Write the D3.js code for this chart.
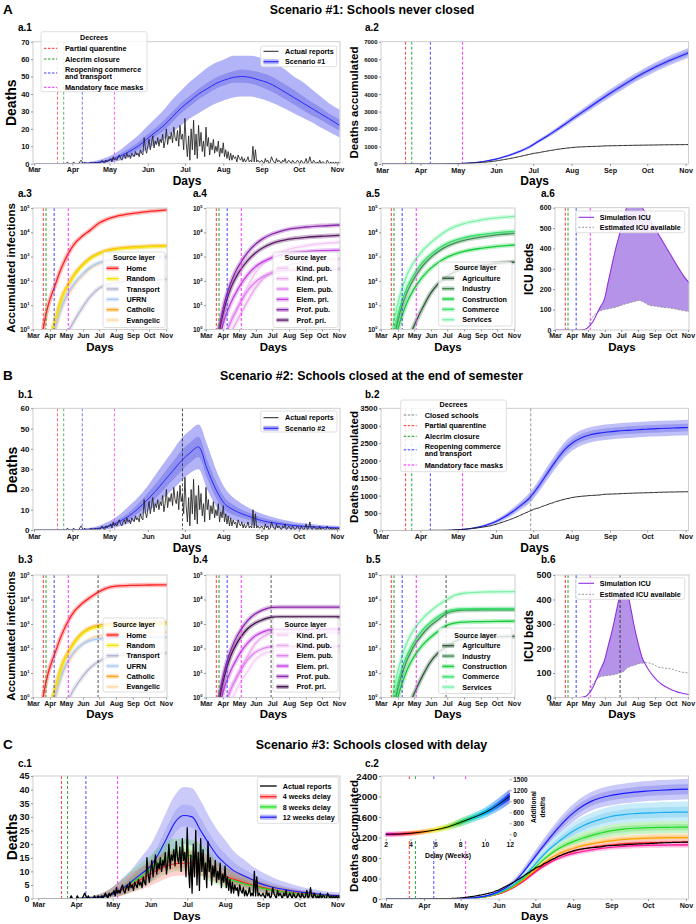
<!DOCTYPE html>
<html><head><meta charset="utf-8">
<script src="https://cdn.jsdelivr.net/npm/d3@7"></script>
<style>body{margin:0;background:#fff}</style>
</head><body>
<script>
// ======================= DATA =======================
const monthLabels = ['Mar','Apr','May','Jun','Jul','Aug','Sep','Oct','Nov'];
// day index 0 = Mar 1 2020
const decreeDays = [19, 24, 39, 65];
const decreeNames = ['Partial quarentine','Alecrim closure','Reopening commerce|and transport','Mandatory face masks'];
const closeSchoolDay = 120;

// weekly grid (days since Mar 1)
const wk = [0,7,14,21,28,35,42,49,56,63,70,77,84,91,98,105,112,119,126,133,140,147,154,161,168,175,182,189,196,203,210,217,224,231,238,247];
// grid for log panels
const lg = [14,21,28,35,42,49,56,63,77,91,105,122,137,153,184,214,247];

// Actual daily death reports
const actMar = [0,0,0,0,0,0,0,0,0,0,0,0,0,0,0,0,0,0,0,0,0,0,0,0,0,0,0,1,0,0,0];
const actApr = [0,1,0,0,0,0,1,2,1,0,1,0,0,0,0,1,0,0,1,0,0,1,0,1,2,1,0,2,1,2];
const actMay = [2,3,1,4,2,3,2,4,5,3,2,4,5,3,6,4,5,3,6,5,4,7,5,6,4,8,6,5,15,9,6];
const actJun = [10,14,8,12,16,9,13,11,15,10,14,12,17,9,13,20,11,16,14,18,12,21,15,13,19,10,22,14,17,8];
const actJul = [26,12,4,16,2,20,8,25,5,17,3,22,10,18,7,13,4,21,10,15,5,12,8,14,6,10,7,13,4,9,6];
const actAug = [12,4,8,3,7,2,6,2,5,3,4,1,5,3,2,4,1,3,1,2,4,1,2,1,10,1,8,1,2,1,1];
const actSep = [2,1,0,3,1,2,0,1,4,2,1,0,3,1,2,1,0,2,1,3,0,1,2,1,0,2,1,0,1,2];
const actOct = [1,0,2,1,0,1,3,0,1,4,1,0,2,1,0,1,0,2,0,1,1,0,0,2,1,0,1,0,1,0,1];
const actNov = [0,1,0];
const actualReports = [].concat(actMar,actApr,actMay,actJun,actJul,actAug,actSep,actOct,actNov);

// a.1 Scenario #1 daily deaths
const s1Mean = [0,0,0,0,0,0.1,0.3,0.6,1.2,2.5,4.5,7,10,14,18,22,27,32,36,40,43,46,48,49.5,50,49.5,48,46.5,44,41,38,35,32,29,26,22];
const s1Hi95 = [0,0,0,0,0,0.3,0.8,1.5,3,5,8,12,16,21,26,31,37,42,47,51,55,58,60,62,62,62,61,60,57,54,50,47,43,39,35,31];
const s1Lo95 = [0,0,0,0,0,0,0,0.1,0.3,0.8,2,3.5,5,8,11,14,18,22,26,29,32,34.5,36.5,38,38.5,38.5,37.5,36,34,31.5,29,26.5,24,21,18.5,15];
const s1Hi50 = [0,0,0,0,0,0.15,0.5,0.9,1.8,3.4,5.8,8.8,12.2,16.5,20.5,25,30,35,39,43,46.5,49.5,51.5,53,54,53.5,52.5,51,48.5,45.5,42.5,39,35.5,32.5,29,25.5];
const s1Lo50 = [0,0,0,0,0,0.05,0.15,0.35,0.7,1.7,3.3,5.3,8,11.5,15.5,19,24,29,33,37,40,43,45,46.5,46.5,46,44.5,42.5,40,37,34,31,28,25.5,22.5,19];
// a.2 Scenario #1 accumulated
const s1Cum = [0,0,0,0,0,0,0,0,8,25,55,100,170,265,400,560,750,980,1290,1590,1910,2250,2600,2940,3280,3620,3950,4270,4580,4880,5160,5420,5660,5890,6100,6360];
const s1CumSpread95 = [0,0,0,0,0,0,0,0,3,8,14,22,32,45,58,70,80,90,100,115,130,150,170,185,200,212,225,235,242,250,256,262,268,272,276,280];
const s1CumSpread50 = [0,0,0,0,0,0,0,0,1.5,4,7,11,16,22,29,35,40,45,50,57,65,75,85,92,100,106,112,117,121,125,128,131,134,136,138,140];

// b.1 Scenario #2 daily deaths
const s2Mean = [0,0,0,0,0,0.1,0.3,0.6,1.2,2.5,4.5,7,10.5,14.5,19,24,29,34,38,41,30,20,13,10,8,6.5,5,4,3.3,2.7,2.2,1.9,1.6,1.4,1.2,1];
const s2Hi95 = [0,0,0,0,0,0.3,0.8,1.5,3,5,8,12,16,21,27,33,39,45,49,52,42,30,21,16,13,10.5,8.5,7,5.8,4.8,4,3.4,2.9,2.5,2.2,2];
const s2Lo95 = [0,0,0,0,0,0,0,0.1,0.3,0.8,2,3.5,6,9,12,16,20,24,28,30,20,12,7,5,3.5,2.6,1.8,1.3,0.9,0.6,0.4,0.3,0.2,0.2,0.1,0.1];
const s2Hi50 = [0,0,0,0,0,0.15,0.5,0.9,1.8,3.4,5.8,8.8,12.8,17.5,22.5,28,33.5,39,43,46,34.5,24,16,12.5,10,8.2,6.5,5.3,4.4,3.6,3,2.5,2.1,1.8,1.6,1.4];
const s2Lo50 = [0,0,0,0,0,0.05,0.15,0.35,0.7,1.7,3.3,5.3,8.2,11.5,15.5,20,24.5,29,33,36,25.5,16,10,7.5,6,4.8,3.6,2.8,2.2,1.8,1.4,1.2,1,0.9,0.8,0.6];
// b.2 Scenario #2 accumulated
const s2Cum = [0,0,0,0,0,0,0,0,8,25,50,90,150,240,370,530,720,930,1250,1620,1980,2300,2520,2660,2740,2790,2820,2845,2865,2880,2895,2910,2920,2930,2940,2950];
const s2CumSpread95 = [0,0,0,0,0,0,0,0,3,8,15,25,40,55,75,100,120,150,170,190,205,215,220,220,220,220,220,220,220,220,220,220,220,220,220,220];
const s2CumSpread50 = [0,0,0,0,0,0,0,0,1.5,4,7.5,12,20,27,37,50,60,75,85,95,102,107,110,110,110,110,110,110,110,110,110,110,110,110,110,110];

// c.1 Scenario #3 daily deaths (4, 8, 12 weeks delay)
const d4Mean = [0,0,0,0,0,0.1,0.3,0.6,1.1,2,3.5,5.2,7,8.8,10.5,12,12.8,13,13,12.7,11.5,9.3,8,7,6,5,4.2,3.5,2.9,2.4,2,1.7,1.4,1.2,1,0.9];
const d4Hi95 = [0,0,0,0,0,0.3,0.8,1.5,2.8,4.8,7,9.5,11.5,13.5,15.5,17,17.5,17.5,17.5,17,15.5,13,11.3,10,8.8,7.5,6.4,5.4,4.6,3.9,3.3,2.8,2.4,2,1.7,1.5];
const d4Lo95 = [0,0,0,0,0,0,0,0.1,0.3,0.6,1.2,2.3,3.3,4.5,6,7.5,8.3,8.5,8.5,8.3,7.5,5.8,4.8,4.1,3.4,2.7,2.1,1.6,1.3,1,0.8,0.6,0.5,0.4,0.3,0.3];
const d4Hi50 = [0,0,0,0,0,0.2,0.5,0.9,1.7,2.9,4.7,6.6,8.5,10.4,12.2,13.7,14.5,14.7,14.7,14.4,13,10.6,9.2,8.1,7,5.9,5,4.2,3.5,2.9,2.5,2.1,1.8,1.5,1.3,1.1];
const d4Lo50 = [0,0,0,0,0,0,0.1,0.3,0.6,1.2,2.4,3.8,5.4,7.1,8.7,10.2,11,11.2,11.2,10.9,9.9,8,6.8,5.9,5,4.1,3.4,2.8,2.3,1.9,1.6,1.3,1.1,0.9,0.8,0.7];
const d8Mean = [0,0,0,0,0,0.1,0.3,0.6,1.1,2,3.8,6,8,10.5,13,15,16,16,15.5,14,11.5,9,7.5,6.5,5.5,4.7,4,3.3,2.8,2.3,1.9,1.6,1.3,1.1,0.9,0.8];
const d8Hi95 = [0,0,0,0,0,0.3,0.8,1.5,2.8,5,7.5,10.5,13,15.5,18.5,21,22,22,21.5,20,17,13.5,11.5,10,8.5,7.3,6.3,5.3,4.5,3.8,3.2,2.7,2.3,2,1.7,1.5];
const d8Lo95 = [0,0,0,0,0,0,0,0.1,0.3,0.6,1.3,2.5,3.8,5.5,7.5,9,10,10,9.8,8.5,6.5,5,4,3.3,2.7,2.2,1.8,1.4,1.1,0.9,0.7,0.5,0.4,0.3,0.25,0.2];
const d8Hi50 = [0,0,0,0,0,0.2,0.5,0.9,1.7,3,5.2,7.8,10,12.5,15.2,17.3,18.3,18.3,17.8,16.2,13.4,10.6,8.9,7.7,6.6,5.7,4.9,4.1,3.5,2.9,2.4,2,1.7,1.4,1.2,1];
const d8Lo50 = [0,0,0,0,0,0,0.1,0.3,0.6,1.2,2.6,4.3,6,8.3,10.6,12.6,13.6,13.6,13.2,11.7,9.4,7.3,6,5.2,4.4,3.7,3.1,2.5,2.1,1.7,1.4,1.2,1,0.8,0.7,0.6];
const d12Mean = [0,0,0,0,0,0.1,0.3,0.6,1.1,2,4,6.5,9,11.5,16,22,28,30.5,30,25,20,15.5,12.5,10,8.5,7,5.5,4.5,3.8,3.2,2.7,2.3,2,1.6,1.3,1];
const d12Hi95 = [0,0,0,0,0,0.3,0.8,1.5,2.8,5,8,11,15,19,25,32,38,41,40.5,36,30,25,21,17,14.5,12,10,8.5,7,6,5,4.2,3.5,3,2.5,2.2];
const d12Lo95 = [0,0,0,0,0,0,0,0.1,0.3,0.6,1.5,3,4.5,6,8.5,12,17,20,19.5,15,11,8,6,4.8,4,3.2,2.5,2,1.5,1.1,0.8,0.6,0.4,0.3,0.2,0.1];
const d12Hi50 = [0,0,0,0,0,0.2,0.5,0.9,1.7,3,5.5,8.3,11.2,14.3,19.5,26,32,34.5,34,29.5,24,19.5,16,13,11,9.2,7.5,6.3,5.3,4.4,3.7,3.1,2.6,2.1,1.7,1.4];
const d12Lo50 = [0,0,0,0,0,0,0.1,0.3,0.6,1.2,2.8,4.8,6.9,9,12.5,18,24,26.5,26,21,16,12,9.5,7.5,6.3,5.2,4,3.2,2.6,2.2,1.8,1.5,1.3,1.1,0.9,0.7];

// c.2 accumulated deaths by delay (2,4,6,8,10,12 weeks)
const c2w2  = [0,0,0,0,0,0,0,0,2,6,14,29,53,92,152,235,340,470,595,700,785,848,895,932,960,985,1005,1020,1032,1040,1046,1050,1052,1054,1055,1056];
const c2w4  = [0,0,0,0,0,0,0,0,2,6,14,30,55,95,158,245,355,490,620,730,820,885,935,975,1005,1030,1050,1067,1080,1089,1095,1100,1103,1105,1107,1108];
const c2w6  = [0,0,0,0,0,0,0,0,2,6,15,31,57,100,165,255,370,510,650,770,870,940,995,1040,1075,1105,1130,1150,1165,1175,1183,1189,1193,1196,1198,1199];
const c2w8  = [0,0,0,0,0,0,0,0,2,7,16,33,60,105,175,270,395,550,710,850,970,1060,1130,1190,1240,1285,1325,1350,1368,1380,1388,1393,1397,1399,1401,1402];
const c2w10 = [0,0,0,0,0,0,0,0,2,7,17,35,65,115,190,295,430,600,790,960,1100,1230,1340,1430,1500,1555,1600,1630,1652,1665,1675,1682,1688,1692,1694,1696];
const c2w12 = [0,0,0,0,0,0,0,0,3,8,20,40,75,135,220,340,520,740,960,1170,1370,1550,1700,1820,1910,1970,2010,2040,2065,2085,2100,2112,2122,2130,2138,2145];
const c2sp2  = [0,0,0,0,0,0,0,0,1,1,2,4,7,10,14,19,24,29,33,37,40,43,45,46,47,48,49,49,50,50,50,50,50,50,50,50];
const c2sp4  = [0,0,0,0,0,0,0,0,1,2,3,5,8,12,17,23,29,35,40,45,49,52,54,56,57,58,59,59,60,60,60,60,60,60,60,60];
const c2sp6  = [0,0,0,0,0,0,0,0,1,2,3,6,10,15,22,30,38,46,54,60,65,69,72,74,76,77,78,79,79,80,80,80,80,80,80,80];
const c2sp8  = [0,0,0,0,0,0,0,0,1,2,4,8,13,20,30,42,55,68,80,90,98,104,108,111,113,115,116,117,118,118,119,119,120,120,120,120];
const c2sp10 = [0,0,0,0,0,0,0,0,1,3,6,11,18,28,42,58,76,95,115,132,148,160,170,178,185,190,194,197,199,201,202,203,204,205,205,205];
const c2sp12 = [0,0,0,0,0,0,0,0,1,3,6,12,20,32,48,65,85,105,125,140,155,165,172,178,183,187,190,192,194,195,196,197,198,199,199,200];
// inset: additional deaths vs delay
const delayWeeks = [2,3,4,5,6,7,8,9,10,11,12];
const addMean = [0,5,25,65,120,200,320,450,590,790,1040];
const addLo95 = [-70,-60,-40,-5,45,115,215,330,450,620,850];
const addHi95 = [70,75,95,140,200,290,430,570,730,960,1230];
const addLo50 = [-35,-28,-8,30,82,158,268,390,520,705,945];
const addHi50 = [35,38,60,102,160,245,375,510,660,875,1135];

// ICU
const icuSimA = [0,0,0,0,0,0,0,1,4,18,42,78,115,150,235,320,400,470,540,610,650,665,640,600,570,540,508,477,446,415,383,352,320,290,262,232];
const icuAvailA = [null,null,null,null,null,null,null,null,null,30,65,85,95,100,103,108,112,118,125,130,135,140,145,140,130,120,118,115,112,110,108,105,102,98,95,90];
const icuSimB = [0,0,0,0,0,0,0,1,4,18,42,78,115,150,210,270,340,410,450,430,360,280,215,160,130,105,85,68,55,45,37,30,24,19,15,12];
const icuAvailB = [null,null,null,null,null,null,null,null,null,25,55,75,85,88,90,92,95,100,105,120,128,132,138,140,142,140,135,125,122,120,118,115,110,105,102,100];

// Accumulated infections by source layer (log panels), on grid lg
const socNames = ['Home','Random','Transport','UFRN','Catholic','Evangelic'];
const aHome = [0.2,2,10,30,80,220,520,1100,3500,7000,12000,24000,35000,45000,60000,72000,84000];
const aRandom = [0.01,0.05,0.2,0.8,3,10,28,55,180,420,800,1300,1700,2000,2300,2550,2700];
const aTransport = [0.001,0.003,0.01,0.03,0.08,0.2,0.4,0.7,2.5,8,22,50,70,85,100,108,115];
const aUFRN = [0.01,0.02,0.1,0.4,1.5,5,13,28,85,190,360,560,700,790,870,920,950];
const aCatholic = [0.01,0.05,0.2,0.8,3,11,30,60,200,460,870,1400,1850,2150,2500,2700,2850];
const aEvangelic = [0.01,0.02,0.08,0.3,1,4,11,22,70,160,320,520,680,800,930,1020,1080];
const bHome = [0.2,2,10,30,80,220,520,1100,3500,7000,12000,21000,30000,35000,38000,39000,39500];
const bRandom = [0.01,0.05,0.2,0.8,3,10,28,55,180,400,620,750,850,900,950,970,980];
const bTransport = [0.001,0.003,0.01,0.03,0.08,0.2,0.4,0.7,2.5,7,16,30,42,50,58,62,65];
const bUFRN = [0.01,0.02,0.1,0.4,1.5,5,13,28,80,150,210,250,265,275,280,285,290];
const bCatholic = [0.01,0.05,0.2,0.8,3,11,30,60,200,440,700,900,1000,1080,1120,1140,1150];
const bEvangelic = [0.01,0.02,0.08,0.3,1,4,11,22,70,150,250,330,380,410,440,450,460];

const schoolNamesA = ['Kind. pub.','Kind. pri.','Elem. pub.','Elem. pri.','Prof. pub.','Prof. pri.'];
const aKindPub = [0.01,0.05,0.2,0.6,1.5,3.5,7,14,60,220,500,1000,1500,2000,2800,3400,3900];
const aKindPri = [0.001,0.01,0.05,0.15,0.4,1,2,4,15,50,120,230,340,450,600,720,800];
const aElemPub = [0.005,0.03,0.15,0.5,1.3,3,6,12,40,90,150,210,250,270,290,300,310];
const aElemPri = [0.02,0.15,0.8,3,8,18,35,66,180,380,620,900,1150,1350,1600,1750,1850];
const aProfPub = [0.05,0.5,3,15,50,130,280,520,1500,3200,5500,8500,11000,13500,16500,18500,20000];
const aProfPri = [0.03,0.3,2,9,30,75,150,270,700,1400,2300,3500,4400,5200,6200,6900,7500];
const schoolNamesB = ['Kind. pri.','Kind. pub.','Elem. pub.','Elem. pri.','Prof. pub.','Prof. pri.'];
const bKindPri = [0.001,0.01,0.05,0.15,0.4,1,2,4,12,35,60,76,78,78,78,78,78];
const bKindPub = [0.01,0.05,0.2,0.6,1.5,3.5,7,14,50,160,300,430,440,440,440,440,440];
const bElemPub = [0.005,0.03,0.15,0.5,1.3,3,6,12,35,70,100,120,122,122,122,122,122];
const bElemPri = [0.02,0.15,0.8,3,8,18,35,66,170,330,480,600,610,610,610,610,610];
const bProfPub = [0.05,0.5,3,15,50,130,280,520,1400,2600,3800,4800,4900,4900,4900,4900,4900];
const bProfPri = [0.03,0.3,2,9,30,75,150,270,650,1100,1500,1900,1950,1950,1950,1950,1950];

const workNames = ['Agriculture','Industry','Construction','Commerce','Services'];
const aAgri = [0.0005,0.002,0.01,0.04,0.12,0.35,0.8,1.8,8,30,75,160,240,320,430,530,600];
const aIndus = [0.02,0.2,1.2,5,15,38,80,150,420,900,1600,2700,3700,4700,6300,7800,9000];
const aConstr = [0.01,0.08,0.5,2,6,15,30,55,150,320,560,950,1300,1650,2200,2650,3000];
const aComm = [0.03,0.3,2,8,25,60,120,220,600,1200,2100,3500,4800,6000,8000,9700,11000];
const aServ = [0.1,1,6,25,80,200,400,700,1800,3600,6500,12000,17500,23000,32000,39000,45000];
const bAgri = [0.0005,0.002,0.01,0.04,0.12,0.35,0.8,1.8,8,28,65,120,200,250,290,305,310];
const bIndus = [0.02,0.2,1.2,5,15,38,80,150,400,850,1500,2800,3400,3650,3750,3800,3800];
const bConstr = [0.01,0.08,0.5,2,6,15,30,55,140,280,500,900,1100,1200,1250,1280,1300];
const bComm = [0.03,0.3,2,8,25,60,120,220,580,1150,2000,3300,3900,4100,4200,4200,4200];
const bServ = [0.1,1,6,25,80,200,400,700,1700,3300,5800,10000,15000,18000,20000,20500,21000];

// tick values
const ticksA1 = [0,10,20,30,40,50,60,70];
const ticksA2 = [0,1000,2000,3000,4000,5000,6000,7000];
const ticksB1 = [0,10,20,30,40,50,60];
const ticksB2 = [0,500,1000,1500,2000,2500,3000,3500];
const ticksC1 = [0,5,10,15,20,25,30,35,40,45];
const ticksC2 = [0,400,800,1200,1600,2000,2400];
const ticksIcuA = [0,100,200,300,400,500,600];
const ticksIcuB = [0,100,200,300,400,500];
const ticksLog = [1,10,100,1000,10000,100000];
const insetXTicks = [2,4,6,8,10,12];
const insetYTicks = [0,300,600,900,1200,1500];

// ======================= STYLE =======================
const FONT = "'Liberation Sans', Arial, Helvetica, sans-serif";
const decreeColors = ['#ff2a2a','#1f9a1f','#3a3aff','#ff22ff'];
const socColors = ['#ff2020','#f2e600','#b4b4d0','#a8c8f4','#ffa31a','#ffd8a8'];
const schoolColorsA = ['#f4c8f4','#e9aaea','#e080f0','#c040e0','#8a26aa','#5a1a66'];
const schoolColorsB = ['#f6d0f6','#eab0ec','#e080f0','#c040e0','#8a26aa','#3a0a44'];
const workColors = ['#2f5a3c','#3d8a50','#14cc3a','#36e06a','#7cf2a8'];

const W = 696, H = 924;
const svg = d3.select('body').append('svg').attr('width', W).attr('height', H);
svg.append('rect').attr('width', W).attr('height', H).attr('fill', '#fff');
const D = d => new Date(2020, 2, 1 + Math.floor(d), 24 * (d - Math.floor(d)));
const monthDates = monthLabels.map((m, i) => new Date(2020, 2 + i, 1));
let clipN = 0;

function txt(x, y, s, fs, o = {}) {
  const t = svg.append('text').attr('x', x).attr('y', y).attr('font-size', fs)
    .attr('font-family', FONT).attr('font-weight', 'bold').attr('fill', o.fill || '#000').text(s);
  if (o.anchor) t.attr('text-anchor', o.anchor);
  if (o.rot) t.attr('text-anchor', 'middle').attr('transform', `rotate(-90,${x},${y})`);
  return t;
}

function makePanel(s) {
  const p = Object.assign({}, s);
  p.x = d3.scaleTime().domain([D(s.d0), D(s.d1)]).range([s.x0, s.x1]);
  p.y = s.log ? d3.scaleLog().domain(s.yDom).range([s.y1, s.y0])
              : d3.scaleLinear().domain(s.yDom).range([s.y1, s.y0]);
  const id = 'clip' + (clipN++);
  svg.append('clipPath').attr('id', id).append('rect')
    .attr('x', s.x0).attr('y', s.y0).attr('width', s.x1 - s.x0).attr('height', s.y1 - s.y0);
  p.g = svg.append('g');
  p.inner = p.g.append('g').attr('clip-path', `url(#${id})`);
  return p;
}
function band(p, xs, lo, hi, fill, op) {
  const a = d3.area().defined((d, i) => lo[i] != null && hi[i] != null)
    .x(d => p.x(D(d))).y0((d, i) => p.y(lo[i])).y1((d, i) => p.y(hi[i])).curve(d3.curveMonotoneX);
  p.inner.append('path').datum(xs).attr('d', a).attr('fill', fill).attr('fill-opacity', op == null ? 1 : op);
}
function spreadBand(p, xs, mean, sp, k, fill, op) {
  band(p, xs, mean.map((v, i) => v - sp[i] * k), mean.map((v, i) => v + sp[i] * k), fill, op);
}
function line(p, xs, ys, color, w, o = {}) {
  const l = d3.line().defined((d, i) => ys[i] != null)
    .x(d => p.x(D(d))).y((d, i) => p.y(ys[i])).curve(o.linear ? d3.curveLinear : d3.curveMonotoneX);
  const path = p.inner.append('path').datum(xs).attr('d', l).attr('fill', 'none')
    .attr('stroke', color).attr('stroke-width', w).attr('stroke-linejoin', 'round');
  if (o.dash) path.attr('stroke-dasharray', o.dash);
  if (o.op != null) path.attr('stroke-opacity', o.op);
  return path;
}
function logCurve(p, ys, color) {
  line(p, lg, ys, color, 4.5, { op: 0.3 });
  line(p, lg, ys, color, 1.3);
}
function vline(p, d, color, w, op, dash) {
  p.inner.append('line').attr('x1', p.x(D(d))).attr('x2', p.x(D(d))).attr('y1', p.y0).attr('y2', p.y1)
    .attr('stroke', color).attr('stroke-width', w).attr('stroke-opacity', op).attr('stroke-dasharray', dash || '3,2');
}
function decrees(p, op, closeColor) {
  decreeDays.forEach((d, i) => vline(p, d, decreeColors[i], 1, op));
  if (closeColor) vline(p, closeSchoolDay, closeColor, 1, 0.9);
}
function finish(p, yTicks, yfs, xfs) {
  p.g.append('rect').attr('x', p.x0).attr('y', p.y0).attr('width', p.x1 - p.x0).attr('height', p.y1 - p.y0)
    .attr('fill', 'none').attr('stroke', '#c8c8c8').attr('stroke-width', 0.9);
  const ax = p.g.append('g').attr('transform', `translate(0,${p.y1})`)
    .call(d3.axisBottom(p.x).tickValues(monthDates).tickFormat((d, i) => monthLabels[i]).tickSize(2).tickPadding(1.5));
  ax.select('.domain').remove();
  ax.selectAll('.tick line').attr('stroke', '#999');
  ax.selectAll('.tick text').attr('font-size', xfs).attr('font-family', FONT).attr('font-weight', 'bold').attr('fill', '#111');
  const ay = p.g.append('g').attr('transform', `translate(${p.x0},0)`)
    .call(d3.axisLeft(p.y).tickValues(yTicks).tickSize(2).tickPadding(1.5).tickFormat(p.log ? () => '' : d3.format('d')));
  ay.select('.domain').remove();
  ay.selectAll('.tick line').attr('stroke', '#999');
  ay.selectAll('.tick text').attr('font-size', yfs).attr('font-family', FONT).attr('font-weight', 'bold').attr('fill', '#111');
  if (p.log) {
    ay.selectAll('.tick text').each(function (d) {
      const t = d3.select(this);
      t.append('tspan').text('10');
      t.append('tspan').attr('dy', -yfs * 0.45).attr('font-size', yfs * 0.62).text(Math.round(Math.log10(d)));
    });
  }
}
function legBox(x0, y0, x1, y1) {
  svg.append('rect').attr('x', x0).attr('y', y0).attr('width', x1 - x0).attr('height', y1 - y0).attr('rx', 2)
    .attr('fill', '#fff').attr('fill-opacity', 0.82).attr('stroke', '#d6d6d6').attr('stroke-width', 0.8);
}
function legLine(xa, xb, y, color, w, dash, op) {
  const l = svg.append('line').attr('x1', xa).attr('x2', xb).attr('y1', y).attr('y2', y)
    .attr('stroke', color).attr('stroke-width', w).attr('stroke-opacity', op == null ? 1 : op);
  if (dash) l.attr('stroke-dasharray', dash);
}
function legRect(xa, xb, y, h, color, op) {
  svg.append('rect').attr('x', xa).attr('y', y - h / 2).attr('width', xb - xa).attr('height', h)
    .attr('fill', color).attr('fill-opacity', op == null ? 1 : op);
}
function layerLegend(x0, y0, x1, y1, titleY, firstY, names, colors) {
  legBox(x0, y0, x1, y1);
  txt((x0 + x1) / 2, titleY, 'Source layer', 7, { anchor: 'middle' });
  names.forEach((n, i) => {
    const y = firstY + i * 10.35;
    legLine(x0 + 3.5, x0 + 15.5, y, colors[i], 4.5, null, 0.35);
    legLine(x0 + 3.5, x0 + 15.5, y, colors[i], 1.3);
    txt(x0 + 23.5, y + 2.6, n, 7.2);
  });
}
function decreeLegend(x0, y0, x1, y1, titleY, entries) {
  legBox(x0, y0, x1, y1);
  txt((x0 + x1) / 2, titleY, 'Decrees', 7.2, { anchor: 'middle' });
  entries.forEach(e => {
    legLine(x0 + 3, x0 + 16, e.y, e.color, 1, '2.5,1.5');
    const parts = e.name.split('|');
    if (parts.length === 1) txt(x0 + 24, e.y + 2.6, parts[0], 7.3);
    else { txt(x0 + 24, e.y - 1.1, parts[0], 7.3); txt(x0 + 24, e.y + 6.3, parts[1], 7.3); }
  });
}

// ======================= HEADERS =======================
txt(3, 13.5, 'A', 13.5);
txt(372, 14, 'Scenario #1: Schools never closed', 12.4, { anchor: 'middle' });
txt(3, 380, 'B', 13.5);
txt(371.5, 380, 'Scenario #2: Schools closed at the end of semester', 12.4, { anchor: 'middle' });
txt(3, 748.5, 'C', 13.5);
txt(371.5, 748.5, 'Scenario #3: Schools closed with delay', 12.4, { anchor: 'middle' });
[['a.1', 18, 30.7], ['a.2', 365, 30.7], ['a.3', 18, 197], ['a.4', 193, 197], ['a.5', 366, 197], ['a.6', 541, 197],
 ['b.1', 18, 397.7], ['b.2', 365, 397.7], ['b.3', 18, 563], ['b.4', 193, 563], ['b.5', 366, 563], ['b.6', 541, 563],
 ['c.1', 18, 766.5], ['c.2', 365, 766.5]].forEach(a => txt(a[1], a[2], a[0], 10));

// ======================= a.1 =======================
const pA1 = makePanel({ x0: 33, x1: 340, y0: 41.7, y1: 163.7, d0: -0.8, d1: 247.4, yDom: [0, 70] });
band(pA1, wk, s1Lo95, s1Hi95, '#b3b3f7');
band(pA1, wk, s1Lo50, s1Hi50, '#9090ef');
decrees(pA1, 0.7);
line(pA1, wk, s1Mean, '#2a2aff', 1);
line(pA1, d3.range(actualReports.length), actualReports, '#222', 0.85, { linear: true });
finish(pA1, ticksA1, 7.5, 7.2);
txt(187, 185, 'Days', 12, { anchor: 'middle' });
txt(16.5, 102.7, 'Deaths', 14, { rot: true });
decreeLegend(41, 31.7, 147, 91.7, 40.3, [
  { y: 48.3, color: decreeColors[0], name: decreeNames[0] },
  { y: 59, color: decreeColors[1], name: decreeNames[1] },
  { y: 73, color: decreeColors[2], name: decreeNames[2] },
  { y: 87.3, color: decreeColors[3], name: decreeNames[3] }]);
legBox(260.7, 46, 336.7, 66.7);
legLine(263.5, 278.5, 51.3, '#222', 1);
txt(285, 53.9, 'Actual reports', 7.2);
legRect(263.5, 278.5, 61.7, 5, '#b3b3f7');
legLine(263.5, 278.5, 61.7, '#2a2aff', 1.2);
txt(285, 64.3, 'Scenario #1', 7.2);

// ======================= a.2 =======================
const pA2 = makePanel({ x0: 381, x1: 688.6, y0: 41.7, y1: 164, d0: -0.8, d1: 247.4, yDom: [0, 7000] });
spreadBand(pA2, wk, s1Cum, s1CumSpread95, 1, '#c0c0f8');
spreadBand(pA2, wk, s1Cum, s1CumSpread50, 1, '#9c9cf0');
decrees(pA2, 0.9);
line(pA2, wk, s1Cum, '#2020ff', 1.1);
line(pA2, d3.range(actualReports.length), d3.cumsum(actualReports), '#222', 1);
finish(pA2, ticksA2, 6, 7.2);
txt(534.7, 185, 'Days', 12, { anchor: 'middle' });
txt(357.5, 102.5, 'Deaths accumulated', 11.5, { rot: true });

// ======================= log panels helper =======================
function logPanel(x0, y0, y1, close, series, colors) {
  const p = makePanel({ x0: x0, x1: x0 + 134, y0: y0, y1: y1, d0: 0, d1: 247, yDom: [1, 1e5], log: true });
  series.forEach((s, i) => logCurve(p, s, colors[i]));
  decrees(p, 0.95, close ? '#444' : null);
  finish(p, ticksLog, 6.6, 7);
  return p;
}
function icuPanel(y0, y1, yMax, sim, avail, close, ticks, yfs) {
  const p = makePanel({ x0: 555, x1: 689, y0: y0, y1: y1, d0: 0, d1: 247, yDom: [0, yMax] });
  band(p, wk, avail, sim.map((v, i) => avail[i] == null ? null : Math.max(v, avail[i])), '#b593e8');
  decrees(p, 0.95, close ? '#333' : null);
  line(p, wk, avail, '#999', 1, { dash: '2,1.5' });
  line(p, wk, sim, '#9030e0', 1.1);
  finish(p, ticks, yfs, 7);
  return p;
}

// ======================= a.3 - a.6 =======================
logPanel(33, 208, 329.5, false, [aEvangelic, aCatholic, aUFRN, aTransport, aRandom, aHome],
  [socColors[5], socColors[4], socColors[3], socColors[2], socColors[1], socColors[0]]);
logPanel(206, 208, 329.5, false, [aKindPub, aKindPri, aElemPub, aElemPri, aProfPri, aProfPub], [schoolColorsA[0], schoolColorsA[1], schoolColorsA[2], schoolColorsA[3], schoolColorsA[5], schoolColorsA[4]]);
logPanel(381, 208, 329.5, false, [aAgri, aConstr, aIndus, aComm, aServ], [workColors[0], workColors[2], workColors[1], workColors[3], workColors[4]]);
icuPanel(207.7, 330, 600, icuSimA, icuAvailA, false, ticksIcuA, 7);
[100, 273.5, 448, 622].forEach(x => txt(x, 351, 'Days', 11.5, { anchor: 'middle' }));
txt(15, 268, 'Accumulated infections', 11.5, { rot: true });
txt(532.5, 269, 'ICU beds', 12, { rot: true });
layerLegend(103, 252, 165, 327.5, 260, 268.3, socNames, socColors);
layerLegend(273, 252, 338, 327.5, 260, 268.3, schoolNamesA, schoolColorsA);
layerLegend(438.7, 262, 512, 326, 270, 278.3, workNames, workColors);
legBox(575.7, 211, 684.7, 232.7);
legLine(578.5, 594, 217.3, '#9030e0', 1.1);
txt(599.7, 219.9, 'Simulation ICU', 7.2);
legLine(578.5, 594, 227.3, '#999', 1, '2,1.5');
txt(599.7, 229.9, 'Estimated ICU available', 7.2);

// ======================= b.1 =======================
const pB1 = makePanel({ x0: 33, x1: 340, y0: 408.3, y1: 530, d0: -0.8, d1: 247.4, yDom: [0, 60] });
band(pB1, wk, s2Lo95, s2Hi95, '#b3b3f7');
band(pB1, wk, s2Lo50, s2Hi50, '#9090ef');
decrees(pB1, 0.7, '#333');
line(pB1, wk, s2Mean, '#2a2aff', 1);
line(pB1, d3.range(actualReports.length), actualReports, '#222', 0.85, { linear: true });
finish(pB1, ticksB1, 8, 7.2);
txt(187, 551.5, 'Days', 12, { anchor: 'middle' });
txt(16.5, 470, 'Deaths', 14, { rot: true });
legBox(260.7, 411, 337, 432);
legLine(263.5, 278.5, 417.7, '#222', 1);
txt(285, 420.3, 'Actual reports', 7.2);
legRect(263.5, 278.5, 428.3, 5, '#b3b3f7');
legLine(263.5, 278.5, 428.3, '#2a2aff', 1.2);
txt(285, 430.9, 'Scenario #2', 7.2);

// ======================= b.2 =======================
const pB2 = makePanel({ x0: 381, x1: 688.6, y0: 408.3, y1: 530.5, d0: -0.8, d1: 247.4, yDom: [0, 3500] });
spreadBand(pB2, wk, s2Cum, s2CumSpread95, 1, '#c0c0f8');
spreadBand(pB2, wk, s2Cum, s2CumSpread50, 1, '#9c9cf0');
decrees(pB2, 0.9, '#888');
line(pB2, wk, s2Cum, '#2020ff', 1.1);
line(pB2, d3.range(actualReports.length), d3.cumsum(actualReports), '#222', 1);
finish(pB2, ticksB2, 7.8, 7.2);
txt(534.7, 551.5, 'Days', 12, { anchor: 'middle' });
txt(357.5, 467, 'Deaths accumulated', 11.5, { rot: true });
decreeLegend(400.7, 400, 506.3, 471.7, 406.8, [
  { y: 415, color: '#888', name: 'Closed schools' },
  { y: 425.7, color: decreeColors[0], name: decreeNames[0] },
  { y: 436.3, color: decreeColors[1], name: decreeNames[1] },
  { y: 449.8, color: decreeColors[2], name: decreeNames[2] },
  { y: 465, color: decreeColors[3], name: decreeNames[3] }]);

// ======================= b.3 - b.6 =======================
logPanel(33, 575, 697.5, true, [bEvangelic, bCatholic, bUFRN, bTransport, bRandom, bHome],
  [socColors[5], socColors[4], socColors[3], socColors[2], socColors[1], socColors[0]]);
logPanel(206, 575, 697.5, true, [bKindPri, bKindPub, bElemPub, bElemPri, bProfPri, bProfPub], [schoolColorsB[0], schoolColorsB[1], schoolColorsB[2], schoolColorsB[3], schoolColorsB[5], schoolColorsB[4]]);
logPanel(381, 575, 697.5, true, [bAgri, bConstr, bIndus, bComm, bServ], [workColors[0], workColors[2], workColors[1], workColors[3], workColors[4]]);
icuPanel(575, 697.5, 500, icuSimB, icuAvailB, true, ticksIcuB, 9);
[100, 273.5, 448, 622].forEach(x => txt(x, 717.5, 'Days', 11.5, { anchor: 'middle' }));
txt(15, 636, 'Accumulated infections', 11.5, { rot: true });
txt(532.5, 636, 'ICU beds', 12, { rot: true });
layerLegend(103, 618, 165, 692, 627, 635, socNames, socColors);
layerLegend(273, 618, 338, 692, 627, 635, schoolNamesB, schoolColorsB);
layerLegend(438.7, 628, 512, 693.5, 637.5, 645.7, workNames, workColors);
legBox(575.7, 577.7, 684.7, 599.3);
legLine(578.5, 594, 583.3, '#9030e0', 1.1);
txt(599.7, 585.9, 'Simulation ICU', 7.2);
legLine(578.5, 594, 594.3, '#999', 1, '2,1.5');
txt(599.7, 596.9, 'Estimated ICU available', 7.2);

// ======================= c.1 =======================
const pC1 = makePanel({ x0: 33, x1: 340, y0: 776, y1: 898.6, d0: -4.3, d1: 247.2, yDom: [0, 45] });
band(pC1, wk, d12Lo95, d12Hi95, '#6a6af0', 0.35);
band(pC1, wk, d12Lo50, d12Hi50, '#6a6af0', 0.25);
band(pC1, wk, d8Lo95, d8Hi95, '#30d830', 0.25);
band(pC1, wk, d8Lo50, d8Hi50, '#30d830', 0.2);
band(pC1, wk, d4Lo95, d4Hi95, '#ff4a4a', 0.25);
band(pC1, wk, d4Lo50, d4Hi50, '#ff4a4a', 0.2);
decrees(pC1, 0.9);
line(pC1, wk, d4Mean, '#ff1a1a', 1.1);
line(pC1, wk, d8Mean, '#18e018', 1.1);
line(pC1, wk, d12Mean, '#1a1aff', 1.1);
line(pC1, d3.range(actualReports.length), actualReports, '#000', 1.3, { linear: true });
finish(pC1, ticksC1, 9, 7.2);
txt(187, 920, 'Days', 11.5, { anchor: 'middle' });
txt(16.5, 837, 'Deaths', 14, { rot: true });
legBox(257.3, 777, 338.3, 823.3);
legLine(260, 276.7, 786, '#000', 1.3);
txt(282.7, 788.6, 'Actual reports', 7.2);
[['4 weeks delay', '#ff1a1a', '#ffb0b0', 796.7], ['8 weeks delay', '#18e018', '#b2f0b2', 806.9], ['12 weeks delay', '#1a1aff', '#b8b8f6', 817.2]]
  .forEach(e => { legRect(260, 276.7, e[3], 5, e[2]); legLine(260, 276.7, e[3], e[1], 1.2); txt(282.7, e[3] + 2.6, e[0], 7.2); });

// ======================= c.2 =======================
const pC2 = makePanel({ x0: 381, x1: 688.6, y0: 776, y1: 899, d0: -4.1, d1: 247.2, yDom: [0, 2400] });
const c2 = [
  [c2w12, c2sp12, '#1a1aff', '#c9c9fa', '#a9a9f3'],
  [c2w10, c2sp10, '#1aaef0', '#c8ecfa', '#a6def6'],
  [c2w8, c2sp8, '#20dc20', '#c6f4c6', '#a2eca2'],
  [c2w6, c2sp6, '#ffa000', '#ffe2b8', '#ffd090'],
  [c2w4, c2sp4, '#ff2020', '#ffc6c6', '#ffa4a4'],
  [c2w2, c2sp2, '#ff1493', '#ffc2e4', '#ff9ed2']];
c2.forEach(s => { spreadBand(pC2, wk, s[0], s[1], 1, s[3]); spreadBand(pC2, wk, s[0], s[1], 0.5, s[4]); });
decrees(pC2, 0.9);
c2.slice().reverse().forEach(s => line(pC2, wk, s[0], s[2], 1.2));
line(pC2, d3.range(actualReports.length), d3.cumsum(actualReports), '#000', 1.2);
finish(pC2, ticksC2, 9.5, 7.2);
txt(534.7, 920, 'Days', 11.5, { anchor: 'middle' });
txt(357.5, 836, 'Deaths accumulated', 11.5, { rot: true });

// inset
const ix = d3.scaleLinear().domain([2, 12]).range([385.7, 509.7]);
const iy = d3.scaleLinear().domain([-128, 1500]).range([839, 779.3]);
svg.append('rect').attr('x', 383).attr('y', 779).attr('width', 130).attr('height', 60).attr('fill', '#fff');
const delayColors = ['#ff00d0','#ff0066','#ff2a00','#ff8c00','#f2dc00','#9ade00','#20cc30','#00ccaa','#00b4f0','#0a78ff','#0a1ee8'];
const grad = svg.append('defs').append('linearGradient').attr('id', 'rainbow').attr('gradientUnits', 'userSpaceOnUse')
  .attr('x1', ix(2)).attr('x2', ix(12)).attr('y1', 0).attr('y2', 0);
delayWeeks.forEach((d, i) => grad.append('stop').attr('offset', (d - 2) / 10).attr('stop-color', delayColors[i]));
const iArea = (lo, hi) => d3.area().x((d) => ix(d)).y0((d, i) => iy(lo[i])).y1((d, i) => iy(hi[i])).curve(d3.curveMonotoneX)(delayWeeks);
svg.append('path').attr('d', iArea(addLo95, addHi95)).attr('fill', 'url(#rainbow)').attr('fill-opacity', 0.45);
svg.append('path').attr('d', iArea(addLo50, addHi50)).attr('fill', 'url(#rainbow)').attr('fill-opacity', 0.85);
svg.append('path').attr('d', d3.line().x(d => ix(d)).y((d, i) => iy(addMean[i])).curve(d3.curveMonotoneX)(delayWeeks))
  .attr('fill', 'none').attr('stroke', '#000').attr('stroke-width', 1);
const iax = svg.append('g').attr('transform', 'translate(0,839)')
  .call(d3.axisBottom(ix).tickValues(insetXTicks).tickSize(2).tickPadding(1.5).tickFormat(d3.format('d')));
iax.select('.domain').remove();
iax.selectAll('.tick line').attr('stroke', '#999');
iax.selectAll('.tick text').attr('font-size', 6.8).attr('font-family', FONT).attr('font-weight', 'bold').attr('fill', '#111');
const iay = svg.append('g').attr('transform', 'translate(509.7,0)')
  .call(d3.axisRight(iy).tickValues(insetYTicks).tickSize(2).tickPadding(1.5).tickFormat(d3.format('d')));
iay.select('.domain').remove();
iay.selectAll('.tick line').attr('stroke', '#999');
iay.selectAll('.tick text').attr('font-size', 6.5).attr('font-family', FONT).attr('font-weight', 'bold').attr('fill', '#111');
txt(448, 857.5, 'Delay (Weeks)', 6.8, { anchor: 'middle' });
txt(536.3, 807, 'Additional', 6.5, { rot: true });
txt(544.5, 807, 'deaths', 6.5, { rot: true });
</script>
</body></html>
